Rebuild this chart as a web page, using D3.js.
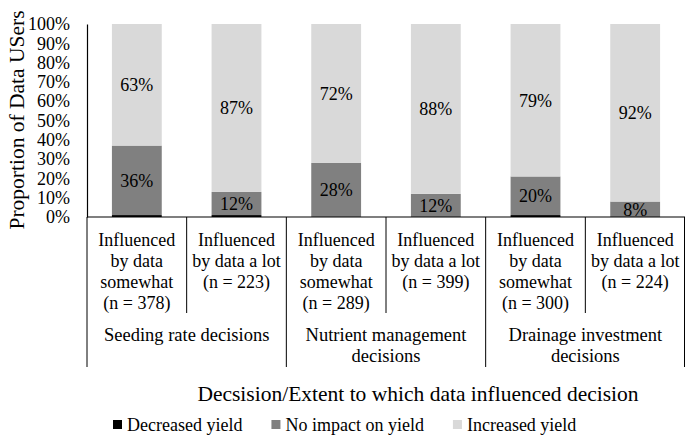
<!DOCTYPE html>
<html>
<head>
<meta charset="utf-8">
<script src="https://cdn.jsdelivr.net/npm/d3@7"></script>
<style>
  html, body { margin: 0; padding: 0; background: #fff; }
  svg { display: block; }
  svg text { font-family: "Liberation Serif", "Times New Roman", serif; }
</style>
</head>
<body>
<svg id="chart" width="685" height="436" font-family="Liberation Serif"></svg>
<script>
// ---- data ----
const categories = [
  ["Influenced", "by data", "somewhat", "(n = 378)"],
  ["Influenced", "by data a lot", "(n = 223)"],
  ["Influenced", "by data", "somewhat", "(n = 289)"],
  ["Influenced", "by data a lot", "(n = 399)"],
  ["Influenced", "by data", "somewhat", "(n = 300)"],
  ["Influenced", "by data a lot", "(n = 224)"]
];
const groups = [
  ["Seeding rate decisions"],
  ["Nutrient management", "decisions"],
  ["Drainage investment", "decisions"]
];
const decreasedYield = [1, 1, 0, 0, 1, 0];
const noImpactYield = [36, 12, 28, 12, 20, 8];
const increasedYield = [63, 87, 72, 88, 79, 92];
const seriesNames = ["Decreased yield", "No impact on yield", "Increased yield"];
const seriesColors = ["#000000", "#808080", "#d9d9d9"];
const yTicks = [0, 10, 20, 30, 40, 50, 60, 70, 80, 90, 100];
const yTitle = "Proportion of Data USers";
const xTitle = "Decsision/Extent to which data influenced decision";

// ---- layout ----
const FONT = "Liberation Serif";
const svg = d3.select("#chart");
const mLeft = 87, mRight = 685, mTop = 24, mBottom = 217;

const x = d3.scaleBand().domain(d3.range(categories.length))
  .range([mLeft, mRight]).paddingInner(0.5).paddingOuter(0.25);
const y = d3.scaleLinear().domain([0, 100]).range([mBottom, mTop]);

const table = categories.map((c, i) => ({
  i, dec: decreasedYield[i], none: noImpactYield[i], inc: increasedYield[i]
}));
const stack = d3.stack().keys(["dec", "none", "inc"])(table);

// bars
svg.append("g").selectAll("g").data(stack).join("g")
  .attr("fill", (d, k) => seriesColors[k])
  .selectAll("rect").data(d => d).join("rect")
  .attr("x", d => x(d.data.i))
  .attr("width", x.bandwidth())
  .attr("y", d => y(d[1]))
  .attr("height", d => y(d[0]) - y(d[1]));

// value labels (No impact and Increased)
const labelG = svg.append("g").attr("font-size", 18).attr("fill", "#000")
  .attr("font-family", FONT).attr("text-anchor", "middle");
stack.slice(1).forEach(layer => {
  labelG.selectAll(null).data(layer).join("text")
    .attr("x", d => x(d.data.i) + x.bandwidth() / 2)
    .attr("y", d => y((d[0] + d[1]) / 2))
    .attr("dy", "0.35em")
    .text(d => (d[1] - d[0]) + "%");
});

// y axis
const yAxis = svg.append("g").attr("transform", `translate(${mLeft},0)`)
  .call(d3.axisLeft(y).tickValues(yTicks).tickSize(0).tickPadding(17)
    .tickFormat(d => d + "%"));
yAxis.attr("font-family", FONT).attr("font-size", 18);
yAxis.select(".domain").attr("stroke", "#000").attr("stroke-width", 1.2);
yAxis.selectAll("text").attr("fill", "#000");

// x baseline
svg.append("line").attr("x1", mLeft).attr("x2", mRight)
  .attr("y1", mBottom).attr("y2", mBottom)
  .attr("stroke", "#000").attr("stroke-width", 1.2);

// separators
const step = x.step();
const seps = d3.range(categories.length + 1);
svg.append("g").selectAll("line").data(seps).join("line")
  .attr("x1", k => Math.min(mLeft + k * step, mRight - 0.5))
  .attr("x2", k => Math.min(mLeft + k * step, mRight - 0.5))
  .attr("y1", mBottom)
  .attr("y2", k => k % 2 === 0 ? 367 : 313)
  .attr("stroke", "#000").attr("stroke-width", 1);

// category labels
const catG = svg.append("g").attr("font-size", 18).attr("fill", "#000")
  .attr("font-family", FONT).attr("text-anchor", "middle");
categories.forEach((lines, i) => {
  lines.forEach((t, j) => {
    catG.append("text")
      .attr("x", x(i) + x.bandwidth() / 2)
      .attr("y", 240 + j * 21)
      .attr("dy", "0.35em")
      .text(t);
  });
});

// group labels
const grpG = svg.append("g").attr("font-size", 18.5).attr("fill", "#000")
  .attr("font-family", FONT).attr("text-anchor", "middle");
groups.forEach((lines, g) => {
  const cx = mLeft + (g * 2 + 1) * step;
  lines.forEach((t, j) => {
    grpG.append("text")
      .attr("x", cx)
      .attr("y", 335 + j * 21)
      .attr("dy", "0.35em")
      .text(t);
  });
});

// axis titles
svg.append("text")
  .attr("transform", "translate(16,120) rotate(-90)")
  .attr("text-anchor", "middle").attr("dy", "0.35em")
  .attr("font-family", FONT)
  .attr("font-size", 21.5).attr("fill", "#000")
  .text(yTitle);

svg.append("text")
  .attr("x", 418).attr("y", 393).attr("dy", "0.35em")
  .attr("text-anchor", "middle").attr("font-family", FONT)
  .attr("font-size", 21.5).attr("fill", "#000")
  .text(xTitle);

// legend
const legend = svg.append("g").attr("font-size", 18).attr("fill", "#000")
  .attr("font-family", FONT);
let lx = 113;
seriesNames.forEach((name, k) => {
  legend.append("rect").attr("x", lx).attr("y", 420)
    .attr("width", 9).attr("height", 9).attr("fill", seriesColors[k]);
  const t = legend.append("text").attr("x", lx + 14).attr("y", 425)
    .attr("dy", "0.35em").text(name);
  lx += 14 + t.node().getComputedTextLength() + 29;
});
</script>
</body>
</html>
